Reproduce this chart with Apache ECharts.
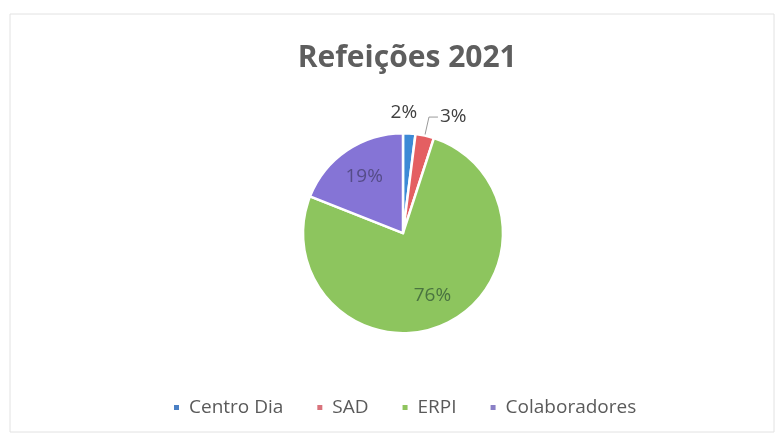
<!DOCTYPE html>
<html>
<head>
<meta charset="utf-8">
<script src="https://cdn.jsdelivr.net/npm/echarts@6/dist/echarts.min.js"></script>
<style>
  html, body { margin: 0; padding: 0; background: #ffffff; }
  #chart { width: 781px; height: 440px; }
</style>
</head>
<body>
<div id="chart"></div>
<script>
// Meal share per service, 2021 (percent)
const categories = ['Centro Dia', 'SAD', 'ERPI', 'Colaboradores'];
const shares = [2, 3, 76, 19];
const sliceColors = ['#3d8ad6', '#e45f62', '#8dc55e', '#8574d6'];
const legendColors = ['#4a80c4', '#d9737c', '#8fc45e', '#8a80c6'];
const chartTitle = 'Refeições 2021';

const FONT = '"Open Sans", "Noto Sans", sans-serif';
const CENTER = ['51.6%', '53%'];
const RADIUS = 100;

// Which slices get their label outside the pie
const outsideLabel = [true, true, false, false];
const insideLabelColors = ['#333', '#333', '#4a7440', '#554c88'];

const chart = echarts.init(document.getElementById('chart'), null, { renderer: 'canvas' });

const pieData = categories.map((name, i) => ({
  name,
  value: shares[i],
  itemStyle: { color: sliceColors[i] },
  label: outsideLabel[i]
    ? {
        show: true,
        position: 'outside',
        offset: i === 0 ? [-22, 0] : [0, 0]
      }
    : { show: false },
  labelLine: outsideLabel[i]
    ? { show: i === 1, length: i === 0 ? 21 : 19, length2: i === 0 ? 0 : 9 }
    : { show: false }
}));

// Transparent copy of the pie, larger, used only to place the inside labels
const insideData = categories.map((name, i) => ({
  name,
  value: shares[i],
  itemStyle: { color: 'rgba(0,0,0,0)' },
  label: outsideLabel[i]
    ? { show: false }
    : { show: true, position: 'inside', color: insideLabelColors[i] }
}));

chart.setOption({
  backgroundColor: '#ffffff',
  animation: false,
  title: {
    text: chartTitle,
    left: '51.5%',
    textAlign: 'center',
    top: 38,
    textStyle: {
      fontFamily: FONT,
      fontSize: 30,
      fontWeight: 'bold',
      color: '#5e5e5e'
    }
  },
  legend: {
    data: categories.map((name, i) => ({ name, itemStyle: { color: legendColors[i] } })),
    bottom: 18,
    left: 167,
    icon: 'rect',
    itemWidth: 7,
    itemHeight: 7,
    itemGap: 32,
    textStyle: { fontFamily: FONT, fontSize: 19, color: '#5a5a5a', padding: [0, 0, 0, 4] }
  },
  graphic: [{
    type: 'rect',
    shape: { x: 10, y: 14, width: 764, height: 418 },
    style: { fill: 'none', stroke: '#e2e2e2', lineWidth: 1 },
    silent: true
  }],
  series: [
    {
      type: 'pie',
      center: CENTER,
      radius: RADIUS,
      startAngle: 90,
      clockwise: true,
      avoidLabelOverlap: false,
      silent: true,
      itemStyle: { borderColor: '#ffffff', borderWidth: 2.5 },
      label: {
        fontFamily: FONT,
        fontSize: 19,
        color: '#404040',
        formatter: '{c}%',
        distanceToLabelLine: 2
      },
      labelLine: { lineStyle: { color: '#9a9a9a', width: 1 } },
      data: pieData
    },
    {
      type: 'pie',
      center: CENTER,
      radius: RADIUS * 1.32,
      startAngle: 90,
      clockwise: true,
      silent: true,
      legendHoverLink: false,
      z: 3,
      itemStyle: { borderWidth: 0 },
      label: {
        fontFamily: FONT,
        fontSize: 19,
        formatter: '{c}%'
      },
      labelLine: { show: false },
      data: insideData
    }
  ]
});
</script>
</body>
</html>
